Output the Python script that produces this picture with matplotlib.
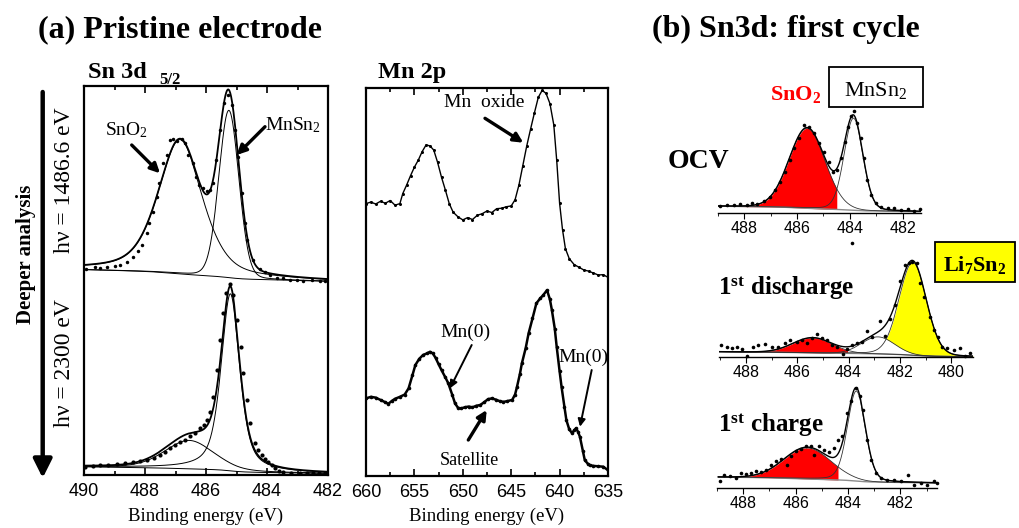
import numpy as np
import matplotlib.pyplot as plt
from matplotlib.patches import Rectangle

plt.rcParams['font.family'] = ['Liberation Serif', 'DejaVu Serif']
plt.rcParams['mathtext.fontset'] = 'custom'
plt.rcParams['mathtext.rm'] = 'Liberation Serif'
plt.rcParams['mathtext.it'] = 'Liberation Serif:italic'
plt.rcParams['mathtext.bf'] = 'Liberation Serif:bold'

W, H = 1020, 528
SANS = 'Liberation Sans'

# ---------------- data ----------------
# Sn 3d5/2, hv = 1486.6 eV (measured points)
sn_top_E = [489.93, 489.64, 489.48, 489.26, 488.98, 488.82, 488.60, 488.38, 488.22, 488.11,
            487.94, 487.86, 487.73, 487.62, 487.53, 487.40, 487.29, 487.18, 487.07, 486.96,
            486.80, 486.69, 486.58, 486.44, 486.33, 486.22, 486.11, 485.98, 485.87, 485.76,
            485.67, 485.54, 485.41, 485.27, 485.16, 485.05, 484.94, 484.83, 484.72, 484.64,
            484.45, 484.23, 484.07, 483.90, 483.68, 483.47, 483.25, 483.03, 482.81, 482.53,
            482.26, 482.10]
sn_top_I = [52.9, 53.4, 53.1, 53.4, 53.7, 54.1, 54.8, 56.1, 57.7, 59.1,
            62.1, 64.9, 67.7, 71.5, 75.0, 80.1, 82.3, 86.1, 86.3, 85.9,
            86.3, 85.3, 82.3, 80.1, 76.7, 74.6, 73.7, 73.1, 73.3, 75.0,
            81.0, 88.7, 95.6, 97.7, 95.1, 88.7, 81.8, 72.4, 64.7, 60.4,
            55.3, 52.9, 52.3, 51.4, 50.6, 50.6, 50.1, 50.1, 49.9, 50.1,
            49.9, 49.9]
# fitted components (SnO2, MnSn2): centre, height, fwhm, lorentz fraction
sn_top_center = [486.85, 485.25]
sn_top_height = [34.5, 43.0]
sn_top_fwhm = [1.7, 0.77]
sn_top_eta = [0.5, 0.1]
sn_top_bg = [52.8, 49.8]        # background at 490 eV and 482 eV

# Sn 3d5/2, hv = 2300 eV
sn_bot_E = [489.97, 489.72, 489.48, 489.20, 488.93, 488.65, 488.38, 488.15, 487.94, 487.72,
            487.51, 487.35, 487.18, 487.02, 486.85, 486.68, 486.52, 486.36, 486.20, 486.08,
            485.98, 485.87, 485.76, 485.65, 485.54, 485.44, 485.33, 485.21, 485.10, 484.97,
            484.86, 484.78, 484.67, 484.56, 484.39, 484.28, 484.17, 484.06, 483.96, 483.85,
            483.74, 483.60, 483.47, 483.20, 482.92, 482.70, 482.48, 482.30, 482.10]
sn_bot_I = [2.1, 2.3, 2.6, 2.5, 2.8, 3.0, 3.3, 3.5, 3.9, 4.4,
            5.1, 6.0, 6.9, 7.6, 8.6, 9.0, 9.9, 10.8, 12.0, 12.9,
            14.1, 16.3, 20.1, 27.0, 34.7, 41.6, 46.7, 49.1, 46.3, 39.8,
            33.0, 26.1, 19.3, 13.3, 8.1, 6.4, 5.1, 4.0, 3.4, 2.6,
            1.7, 1.0, 0.7, 0.5, 0.4, 0.6, 0.5, 0.6, 0.4]
sn_bot_center = [486.55, 485.2]
sn_bot_height = [7.3, 45.5]
sn_bot_fwhm = [1.9, 0.72]
sn_bot_eta = [0.3, 0.6]
sn_bot_bg = [2.1, 0.4]

# Mn 2p, hv = 1486.6 eV
mn_top_E = [660.0, 659.5, 659.0, 658.5, 658.0, 657.5, 657.0, 656.5, 656.2, 655.8,
            655.4, 655.0, 654.6, 654.2, 653.8, 653.4, 653.0, 652.6, 652.2, 651.8,
            651.4, 651.0, 650.5, 650.0, 649.5, 649.0, 648.5, 648.0, 647.5, 647.0,
            646.5, 646.0, 645.5, 645.0, 644.6, 644.2, 643.8, 643.4, 643.0, 642.6,
            642.2, 641.8, 641.4, 641.0, 640.6, 640.3, 640.0, 639.7, 639.4, 639.0,
            638.5, 638.0, 637.5, 637.0, 636.5, 636.0, 635.5, 635.0]
mn_top_I = [70.2, 70.6, 70.1, 70.8, 70.3, 71.0, 69.8, 70.2, 72.8, 75.0,
            77.4, 79.6, 81.4, 83.6, 85.3, 85.1, 84.0, 80.8, 77.0, 73.7,
            70.2, 68.0, 66.8, 66.0, 66.6, 66.1, 67.2, 67.6, 68.3, 67.9,
            68.9, 69.0, 69.4, 69.6, 71.2, 75.0, 80.0, 85.0, 89.4, 93.6,
            97.6, 99.4, 98.6, 96.0, 90.5, 81.4, 70.3, 63.5, 58.6, 56.0,
            54.5, 53.8, 53.1, 52.8, 52.3, 51.8, 51.9, 51.2]

# Mn 2p, hv = 2300 eV
mn_bot_E = [660.0, 659.5, 659.0, 658.5, 658.0, 657.7, 657.3, 657.0, 656.5, 656.0,
            655.6, 655.2, 654.9, 654.5, 654.1, 653.7, 653.4, 653.1, 652.8, 652.5,
            652.2, 651.8, 651.5, 651.1, 650.8, 650.5, 650.2, 649.8, 649.4, 649.0,
            648.6, 648.2, 647.8, 647.4, 647.0, 646.6, 646.2, 645.8, 645.4, 644.9,
            644.6, 644.4, 644.1, 643.9, 643.5, 643.2, 642.8, 642.4, 642.0, 641.7,
            641.3, 641.0, 640.8, 640.5, 640.3, 640.0, 639.8, 639.5, 639.3, 639.0,
            638.7, 638.5, 638.3, 638.1, 637.9, 637.6, 637.4, 637.1, 636.9, 636.5,
            636.0, 635.5, 635.0]
mn_bot_I = [20.0, 20.4, 20.2, 19.6, 19.0, 18.6, 19.4, 19.9, 20.4, 21.0,
            22.6, 26.0, 28.6, 30.2, 31.2, 31.6, 32.0, 31.6, 30.4, 28.8,
            27.3, 25.4, 23.9, 21.0, 18.7, 17.6, 17.4, 17.7, 17.9, 17.7,
            18.1, 18.3, 19.0, 19.8, 20.0, 19.7, 19.3, 19.1, 19.3, 19.6,
            21.0, 23.0, 26.3, 29.0, 33.0, 36.8, 40.6, 44.5, 45.8, 46.6,
            47.9, 45.5, 42.8, 38.0, 33.3, 27.0, 23.0, 17.8, 14.4, 12.0,
            11.0, 11.8, 12.3, 11.4, 10.1, 6.5, 4.1, 3.2, 2.8, 2.6,
            2.5, 2.4, 1.5]

# (b) first cycle, OCV
ocv_E = [488.91, 488.66, 488.41, 488.15, 487.90, 487.71, 487.52, 487.27, 487.01, 486.82,
         486.63, 486.44, 486.28, 486.13, 485.94, 485.75, 485.55, 485.36, 485.17, 484.98,
         484.79, 484.63, 484.48, 484.32, 484.20, 484.07, 483.94, 483.84, 483.71, 483.59,
         483.46, 483.33, 483.21, 483.02, 482.83, 482.57, 482.32, 482.07, 481.81, 481.56,
         481.33]
ocv_I = [7.0, 8.0, 7.7, 9.0, 8.0, 10.3, 9.0, 12.3, 16.3, 23.0,
         31.3, 41.3, 53.0, 64.7, 74.7, 88.0, 86.3, 79.7, 69.7, 61.3,
         51.3, 41.3, 43.0, 54.7, 71.3, 86.3, 97.0, 102.3, 89.7, 74.7,
         54.7, 33.0, 18.0, 9.7, 6.3, 4.7, 5.3, 3.0, 3.7, 2.3,
         3.7]
ocv_center = [485.62, 483.86]     # SnO2, MnSn2
ocv_height = [80.0, 92.0]
ocv_fwhm = [1.6, 0.84]
ocv_eta = [0.05, 0.15]
ocv_bg = [6.8, 1.3]

# 1st discharge
dis_E = [488.99, 488.75, 488.56, 488.36, 488.17, 487.97, 487.71, 487.52, 487.26, 487.00,
         486.74, 486.48, 486.28, 486.02, 485.82, 485.63, 485.43, 485.24, 485.04, 484.85,
         484.65, 484.46, 484.22, 484.07, 483.87, 483.68, 483.48, 483.29, 483.09, 482.77,
         482.57, 482.38, 482.18, 481.98, 481.79, 481.66, 481.53, 481.33, 481.20, 481.05,
         480.84, 480.68, 480.53, 480.36, 480.16, 479.90, 479.64, 479.45, 479.25]
dis_I = [12.0, 10.3, 8.7, 9.7, 7.7, 1.0, 9.7, 12.0, 13.0, 10.3,
         9.7, 14.3, 17.0, 15.3, 17.0, 14.3, 18.7, 23.0, 18.7, 17.0,
         12.0, 9.7, 3.0, 7.7, 12.0, 13.7, 15.3, 26.3, 20.3, 36.3,
         21.0, 37.7, 52.0, 76.3, 92.0, 94.3, 95.3, 93.7, 73.7, 60.3,
         39.7, 27.0, 20.3, 10.3, 8.7, 7.0, 8.7, 1.0, 4.3]
dis_stray_E = [483.86]
dis_stray_I = [114.3]
dis_center = [485.4, 482.85, 481.5]   # SnO2, intermediate, Li7Sn2
dis_height = [15.0, 17.0, 93.0]
dis_fwhm = [1.8, 1.5, 1.25]
dis_eta = [0.0, 0.0, 0.1]
dis_bg = [5.3, 0.3]

# 1st charge
chg_E = [488.90, 488.73, 488.52, 488.27, 488.08, 487.89, 487.70, 487.51, 487.32, 487.13,
         486.94, 486.75, 486.56, 486.33, 486.17, 485.98, 485.79, 485.60, 485.41, 485.29,
         485.10, 484.91, 484.72, 484.53, 484.38, 484.21, 484.02, 483.89, 483.70, 483.54,
         483.41, 483.26, 483.11, 482.94, 482.75, 482.50, 482.25, 481.99, 481.71, 481.49,
         481.23, 480.98, 480.73, 480.60]
chg_I = [6.6, 13.3, 12.3, 10.0, 15.0, 14.3, 15.0, 16.6, 15.6, 17.6,
         23.3, 26.6, 29.0, 23.3, 32.3, 36.6, 39.0, 42.3, 41.6, 33.3,
         42.3, 38.3, 35.6, 40.0, 48.3, 51.6, 75.0, 86.6, 100.0, 91.6,
         78.3, 48.3, 28.3, 15.0, 10.0, 8.3, 8.3, 6.6, 13.3, 3.3,
         5.0, 3.3, 6.6, 5.0]
chg_center = [485.55, 483.68]     # SnO2, MnSn2
chg_height = [31.0, 90.0]
chg_fwhm = [2.1, 0.8]
chg_eta = [0.0, 0.2]
chg_bg = [11.0, 5.0]


def pv(E, c, h, w, eta):
    d = (E - c) / w
    return h * (eta / (1 + 4 * d**2) + (1 - eta) * np.exp(-4 * np.log(2) * d**2))


def background(E, comps, b_hi, b_lo):
    # half Shirley step, half linear, E ascending
    tot = np.sum(comps, axis=0)
    area = np.cumsum(tot)
    step = area / area[-1]
    lin = (E - E[0]) / (E[-1] - E[0])
    return b_lo + (b_hi - b_lo) * (0.5 * step + 0.5 * lin)


def model(lo, hi, centers, heights, fwhms, etas, bgs):
    E = np.linspace(lo, hi, 900)
    comps = [pv(E, c, h, w, e) for c, h, w, e in zip(centers, heights, fwhms, etas)]
    bg = background(E, comps, bgs[0], bgs[1])
    return E, comps, bg


fig = plt.figure(figsize=(W / 100, H / 100), dpi=100)


def px_axes(x0, y0, x1, y1):
    return fig.add_axes([x0 / W, 1 - y1 / H, (x1 - x0) / W, (y1 - y0) / H])


# ---------------- Sn 3d5/2 ----------------
ax = px_axes(84, 86, 328, 475)
ax.set_xlim(490, 482)
ax.set_ylim(0, 100)
for cen, hei, fw, et, bgs, Ed, Id, ms in [
        (sn_top_center, sn_top_height, sn_top_fwhm, sn_top_eta, sn_top_bg, sn_top_E, sn_top_I, 2.5),
        (sn_bot_center, sn_bot_height, sn_bot_fwhm, sn_bot_eta, sn_bot_bg, sn_bot_E, sn_bot_I, 3.0)]:
    E, comps, bg = model(482, 490, cen, hei, fw, et, bgs)
    ax.plot(E, bg, color='k', lw=0.7)
    for c in comps:
        ax.plot(E, bg + c, color='k', lw=0.7)
    ax.plot(E, bg + np.sum(comps, axis=0), color='k', lw=1.3)
    ax.plot(Ed, Id, 'o', color='k', ms=ms, mew=0, clip_on=False)
ax.set_xticks([490, 488, 486, 484, 482])
ax.set_xticks([489, 487, 485, 483], minor=True)
ax.set_yticks([])

# ---------------- Mn 2p ----------------
ax2 = px_axes(366, 88, 608, 476)
ax2.set_xlim(660, 635)
ax2.set_ylim(0, 100)
ax2.plot(mn_top_E, mn_top_I, '-o', color='k', lw=1.0, ms=2.2, mew=0)
ax2.plot(mn_bot_E, mn_bot_I, '-o', color='k', lw=1.8, ms=2.6, mew=0)
ax2.set_xticks([660, 655, 650, 645, 640, 635])
ax2.set_xticks(np.arange(635, 660, 2.5), minor=True)
ax2.set_yticks([])

for a in (ax, ax2):
    for s in a.spines.values():
        s.set_linewidth(1.6)
    a.tick_params(which='both', direction='in', top=True, bottom=True,
                  labelsize=13, labelfontfamily=SANS, pad=6, width=1.2)
    a.tick_params(which='major', length=5)
    a.tick_params(which='minor', length=3)

# ---------------- (b) first cycle ----------------
def small_panel(box, xlim, ticks, minor):
    a = px_axes(*box)
    a.set_xlim(*xlim)
    a.set_ylim(0, box[3] - box[1])
    for k in ('top', 'left', 'right'):
        a.spines[k].set_visible(False)
    a.spines['bottom'].set_linewidth(1.0)
    a.set_yticks([])
    a.set_xticks(ticks)
    a.set_xticks(minor, minor=True)
    a.tick_params(which='both', direction='out', labelsize=11.5, labelfontfamily=SANS, pad=2)
    a.tick_params(which='major', length=4)
    a.tick_params(which='minor', length=2.5)
    return a


def draw_curves(a, E, comps, bg, Ed, Id):
    a.plot(E, bg, color='#8c8c8c', lw=1.0)
    for c in comps:
        a.plot(E, bg + c, color='#333333', lw=0.6)
    a.plot(E, bg + np.sum(comps, axis=0), color='k', lw=1.0)
    a.plot(Ed, Id, 'o', color='k', ms=2.6, mew=0, clip_on=False)


# OCV
a1 = small_panel((718, 100, 921, 213), (489.0, 481.3), [488, 486, 484, 482], [489, 487, 485, 483])
E, comps, bg = model(481.3, 489.0, ocv_center, ocv_height, ocv_fwhm, ocv_eta, ocv_bg)
m = (comps[0] >= comps[1]) & (E > ocv_center[1])
a1.fill_between(E, bg, bg + comps[0], where=m, color='#ff0000', lw=0)
draw_curves(a1, E, comps, bg, ocv_E, ocv_I)

# 1st discharge
a2 = small_panel((719, 250, 973, 357), (489.05, 479.15), [488, 486, 484, 482, 480],
                 [489, 487, 485, 483, 481])
E, comps, bg = model(479.15, 489.05, dis_center, dis_height, dis_fwhm, dis_eta, dis_bg)
m = (comps[0] >= comps[1]) & (E > dis_center[1])
a2.fill_between(E, bg, bg + comps[0], where=m, color='#ff0000', lw=0)
m = (comps[2] >= comps[1]) & (E < dis_center[1])
a2.fill_between(E, bg + comps[1], bg + comps[2], where=m, color='#ffff00', lw=0)
draw_curves(a2, E, comps, bg, dis_E, dis_I)
a2.plot(dis_stray_E, dis_stray_I, 'o', color='k', ms=2.6, mew=0, clip_on=False)

# 1st charge
a3 = small_panel((717, 380, 937, 488), (488.95, 480.6), [488, 486, 484, 482], [489, 487, 485, 483, 481])
E, comps, bg = model(480.6, 488.95, chg_center, chg_height, chg_fwhm, chg_eta, chg_bg)
m = (comps[0] >= comps[1]) & (E > chg_center[1])
a3.fill_between(E, bg, bg + comps[0], where=m, color='#ff0000', lw=0)
draw_curves(a3, E, comps, bg, chg_E, chg_I)

# ---------------- texts and arrows (pixel overlay) ----------------
ov = fig.add_axes([0, 0, 1, 1], zorder=10)
ov.set_xlim(0, W)
ov.set_ylim(H, 0)
ov.axis('off')
ov.patch.set_alpha(0)

ov.text(38, 37, '(a) Pristine electrode', fontsize=23, fontweight='bold')
ov.text(652, 37, '(b) Sn3d: first cycle', fontsize=23, fontweight='bold')
ov.text(88, 78, 'Sn 3d', fontsize=17.5, fontweight='bold')
ov.text(159, 84, '5/2', fontsize=12, fontweight='bold')
ov.text(378, 78, 'Mn 2p', fontsize=17.5, fontweight='bold')

ov.text(206, 521, 'Binding energy (eV)', fontsize=13.5, ha='center')
ov.text(487, 521, 'Binding energy (eV)', fontsize=13.5, ha='center')

ov.text(65, 180, 'h\u03bd = 1486.6 eV', fontsize=17, rotation=90, ha='center', va='center')
ov.text(65, 363, 'h\u03bd = 2300 eV', fontsize=17, rotation=90, ha='center', va='center')
ov.text(26, 254, 'Deeper analysis', fontsize=15, fontweight='bold', rotation=90,
        ha='center', va='center')
ov.annotate('', xy=(42.7, 478), xytext=(42.7, 92),
            arrowprops=dict(arrowstyle='-|>', lw=3.2, color='k', mutation_scale=28,
                            shrinkA=0, shrinkB=0))

ov.text(126, 135, 'SnO$_2$', fontsize=14, ha='center')
ov.text(293, 130, 'MnSn$_2$', fontsize=14, ha='center')
ov.text(484, 107, 'Mn  oxide', fontsize=14, ha='center')
ov.text(465, 337, 'Mn(0)', fontsize=14, ha='center')
ov.text(583, 362, 'Mn(0)', fontsize=14, ha='center')
ov.text(469, 465, 'Satellite', fontsize=13, ha='center')

thick = dict(arrowstyle='-|>', lw=2.4, color='k', mutation_scale=14, shrinkA=0, shrinkB=0)
thin = dict(arrowstyle='-|>', lw=1.4, color='k', mutation_scale=11, shrinkA=0, shrinkB=0)
for tail, tip, st in [((131.7, 145), (160, 173.3), thick),
                      ((265, 126.7), (236.7, 155), thick),
                      ((485, 118.3), (523.3, 142.7), thick),
                      ((471.7, 345), (450, 388.3), thin),
                      ((591.7, 370), (580, 426.7), thin),
                      ((468.3, 440), (486.7, 410), thick)]:
    ov.annotate('', xy=tip, xytext=tail, arrowprops=st)

ov.text(668, 168, 'OCV', fontsize=20, fontweight='bold')
ov.text(718, 295, r'1$^{\mathbf{st}}$ discharge', fontsize=18, fontweight='bold')
ov.text(718, 432, r'1$^{\mathbf{st}}$ charge', fontsize=18, fontweight='bold')

ov.text(796, 100, r'SnO$_{\mathbf{2}}$', fontsize=16, fontweight='bold', color='#ff0000', ha='center')
ov.add_patch(Rectangle((829, 67), 94, 40, fill=False, lw=1.3, ec='k'))
ov.text(876, 96, 'MnSn$_2$', fontsize=16, ha='center')
ov.add_patch(Rectangle((935, 242), 80, 40, fc='#ffff00', lw=1.3, ec='k'))
ov.text(975, 271, r'Li$_{\mathbf{7}}$Sn$_{\mathbf{2}}$', fontsize=16, fontweight='bold', ha='center')

fig.savefig('out.png', dpi=100)
